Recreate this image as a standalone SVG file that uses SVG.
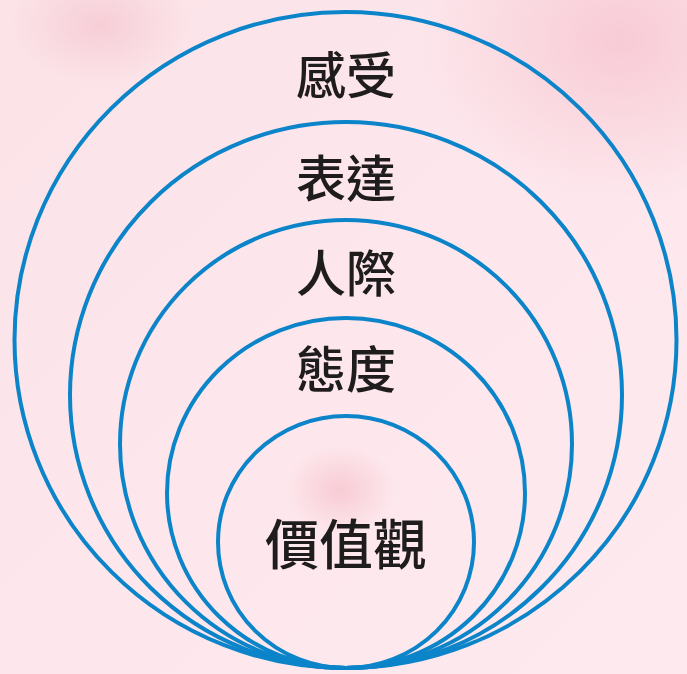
<svg xmlns="http://www.w3.org/2000/svg" width="687" height="674" viewBox="0 0 687 674">
  <defs>
    <linearGradient id="bg" x1="0" y1="0" x2="1" y2="1">
      <stop offset="0" stop-color="#fbe3e8"/>
      <stop offset="0.5" stop-color="#fde7ec"/>
      <stop offset="1" stop-color="#fde9ee"/>
    </linearGradient>
    <radialGradient id="blobTR" cx="0.5" cy="0.5" r="0.5">
      <stop offset="0" stop-color="#f7c4d0" stop-opacity="0.8"/>
      <stop offset="1" stop-color="#f7c4d0" stop-opacity="0"/>
    </radialGradient>
    <radialGradient id="blobC" cx="0.5" cy="0.5" r="0.5">
      <stop offset="0" stop-color="#f2a9b8" stop-opacity="0.45"/>
      <stop offset="1" stop-color="#f2a9b8" stop-opacity="0"/>
    </radialGradient>
    <radialGradient id="blobTL" cx="0.5" cy="0.5" r="0.5">
      <stop offset="0" stop-color="#f4bfca" stop-opacity="0.6"/>
      <stop offset="1" stop-color="#f4bfca" stop-opacity="0"/>
    </radialGradient>
    <style>
      .ring { fill: none; stroke: #0b84c9; stroke-width: 4; }
      .lbl { font-family: "Noto Sans CJK TC", "Noto Sans CJK SC", sans-serif; font-weight: 500; fill: #1f1c1d; text-anchor: middle; dominant-baseline: central; }
    </style>
  </defs>
  <rect width="687" height="674" fill="url(#bg)"/>
  <ellipse cx="620" cy="40" rx="200" ry="160" fill="url(#blobTR)"/>
  <ellipse cx="100" cy="25" rx="90" ry="60" fill="url(#blobTL)"/>
  <ellipse cx="340" cy="490" rx="55" ry="45" fill="url(#blobC)"/>

  <g id="ring-feel">
    <ellipse class="ring" cx="345.5" cy="340" rx="331" ry="328"/>
    <text class="lbl" x="346" y="72" font-size="50">感受</text>
  </g>
  <g id="ring-express">
    <ellipse class="ring" cx="346" cy="395" rx="276" ry="273"/>
    <text class="lbl" x="346" y="175" font-size="50">表達</text>
  </g>
  <g id="ring-social">
    <ellipse class="ring" cx="346" cy="444" rx="226" ry="224"/>
    <text class="lbl" x="346" y="270" font-size="50">人際</text>
  </g>
  <g id="ring-attitude">
    <ellipse class="ring" cx="346" cy="493" rx="179" ry="175"/>
    <text class="lbl" x="346" y="366" font-size="50">態度</text>
  </g>
  <g id="ring-values">
    <ellipse class="ring" cx="346" cy="542" rx="128" ry="126"/>
    <text class="lbl" x="346" y="541" font-size="54">價值觀</text>
  </g>
  <g id="connectors"/>
</svg>
